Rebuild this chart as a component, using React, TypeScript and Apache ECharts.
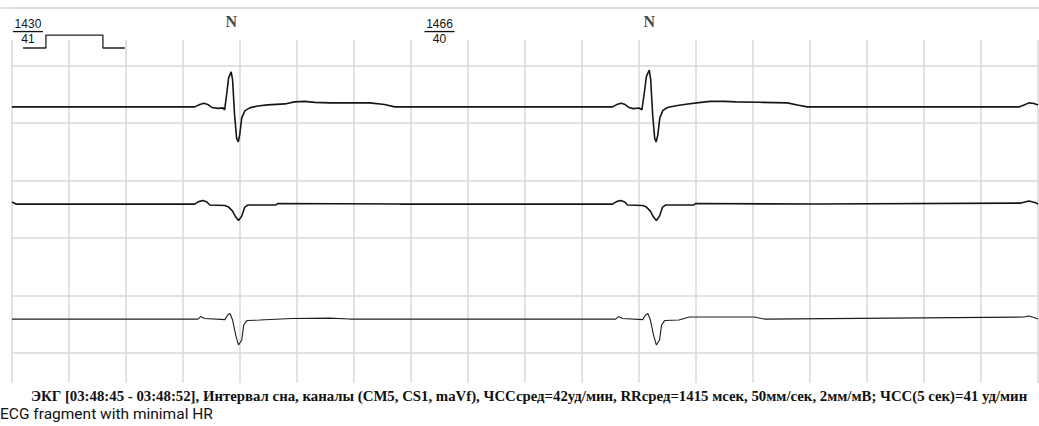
import React, { useEffect, useRef } from "react";
import * as echarts from "echarts";

// Time axis: milliseconds, one grid square = 200 ms (50 mm/s)
const X_MAX_MS = 3600;
const GRID_STEP_MS = 200;

// Amplitudes in mm (2 mm/mV), one grid square = 10 mm
// Channel CM5
const traceCM5: [number, number][] = [
  [0, 0], [641, 0], [659, 0.43], [673, 0.64], [687, 0.43], [701, -0.09], [722, -0.26], [740, -0.17],
  [746, -0.52], [753, 2.09], [760, 5.04], [769, 6.09], [774, 4.7], [781, -1.39], [788, -5.39],
  [794, -6.09], [799, -4.87], [806, -1.91], [817, -0.7], [834, -0.17], [862, 0.17], [897, 0.35],
  [957, 0.52], [992, 0.87], [1027, 0.96], [1062, 0.78], [1115, 0.7], [1255, 0.7], [1307, 0.43], [1343, 0],
  [2107, 0], [2122, 0.4], [2137, 0.64], [2150, 0.45], [2165, -0.1], [2180, -0.3], [2200, -0.2],
  [2210, -0.5], [2218, 2.2], [2226, 5.3], [2236, 6.4], [2241, 4.8], [2248, -1.4], [2255, -5.4],
  [2260, -6.1], [2266, -4.9], [2273, -1.9], [2284, -0.6], [2300, -0.1], [2330, 0.2], [2365, 0.45],
  [2410, 0.75], [2450, 0.96], [2500, 0.96], [2540, 0.87], [2620, 0.8], [2720, 0.7], [2760, 0.3], [2790, 0],
  [3533, 0], [3551, 0.35], [3568, 0.7], [3586, 0.6], [3600, 0.35],
];
// Channel CS1
const traceCS1: [number, number][] = [
  [0, 0.35], [14, 0], [641, 0], [655, 0.43], [670, 0.61], [684, 0.35], [694, -0.17], [747, -0.26],
  [760, -0.52], [774, -1.22], [785, -2.26], [795, -2.87], [806, -2.09], [817, -0.52], [827, -0.17],
  [925, -0.17], [932, 0.09], [1360, 0],
  [2107, 0], [2121, 0.43], [2136, 0.61], [2150, 0.35], [2160, -0.17], [2213, -0.26], [2226, -0.52],
  [2240, -1.22], [2251, -2.26], [2261, -2.87], [2272, -2.09], [2283, -0.52], [2293, -0.17],
  [2391, -0.17], [2398, 0.09], [2826, 0],
  [3540, 0.17], [3568, 0.52], [3589, 0.26], [3600, 0],
];
// Channel maVf
const traceMAVF: [number, number][] = [
  [0, 0], [652, 0], [662, 0.43], [676, 0.09], [747, -0.09], [757, 0.7], [765, 0.96], [774, -0.17],
  [785, -2.78], [795, -4.52], [806, -3.65], [813, -1.04], [824, -0.26], [869, -0.17], [981, 0.09],
  [1115, 0.17], [1185, 0],
  [2118, 0], [2128, 0.43], [2142, 0.09], [2213, -0.09], [2223, 0.7], [2231, 0.96], [2240, -0.17],
  [2251, -2.78], [2261, -4.52], [2272, -3.65], [2279, -1.04], [2290, -0.26], [2340, -0.17],
  [2377, 0.35], [2604, 0.35], [2640, 0],
  [3551, 0.35], [3568, 0.52], [3586, 0.26], [3600, 0],
];
// Calibration pulse (1 mV = 2 mm)
const calibration: [number, number][] = [
  [39, 0], [119, 0], [119, 2.26], [319, 2.26], [319, 0], [396, 0],
];

// Beat annotations
const beatTimes = [769, 2236];
const beatLabels = ["N", "N"];
const rrMarkTimes = [56, 1500];
const rrValues = ["1430", "1466"];
const hrValues = ["41", "40"];

const captionMain =
  "ЭКГ [03:48:45 - 03:48:52], Интервал сна, каналы (CM5, CS1, maVf), ЧССсред=42уд/мин, RRсред=1415 мсек, 50мм/сек, 2мм/мВ; ЧСС(5 сек)=41 уд/мин";
const captionSub = "ECG fragment with minimal HR";

// Row positions in grid squares from the top
const ROW_CM5 = 1.72;
const ROW_CS1 = 3.41;
const ROW_MAVF = 5.41;
const ROW_CAL = 0.696;
const ROW_N = 0.243;
const ROW_RR = 0.41;

const place = (pts: [number, number][], row: number) =>
  pts.map(([t, mm]) => [t, row - mm / 10]);

export default function App() {
  const ref = useRef<HTMLDivElement>(null);
  useEffect(() => {
    document.body.style.margin = "0";
    const chart = echarts.init(ref.current!, null, { renderer: "svg" });
    const gridColor = "#d9d9d9";
    const option: any = {
      animation: false,
      backgroundColor: "#ffffff",
      grid: [
        { left: 12, top: 8, width: 1026, height: 345 },
        { left: 12, top: 40, width: 1026, height: 343 },
      ],
      xAxis: [
        {
          gridIndex: 0, type: "value", min: 0, max: X_MAX_MS, interval: GRID_STEP_MS,
          axisLine: { show: false }, axisTick: { show: false }, axisLabel: { show: false },
          splitLine: { show: false },
        },
        {
          gridIndex: 1, type: "value", min: 0, max: X_MAX_MS, interval: GRID_STEP_MS,
          axisLine: { show: false }, axisTick: { show: false }, axisLabel: { show: false },
          splitLine: { show: true, lineStyle: { color: gridColor, width: 1.5 } },
        },
      ],
      yAxis: [
        {
          gridIndex: 0, type: "value", min: 0, max: 6, interval: 1, inverse: true,
          axisLine: { show: false }, axisTick: { show: false }, axisLabel: { show: false },
          splitLine: { show: true, lineStyle: { color: gridColor, width: 1.5 } },
        },
        {
          gridIndex: 1, type: "value", min: 0, max: 1, inverse: true,
          axisLine: { show: false }, axisTick: { show: false }, axisLabel: { show: false },
          splitLine: { show: false },
        },
      ],
      series: [
        {
          type: "line", name: "CM5", xAxisIndex: 0, yAxisIndex: 0, showSymbol: false,
          data: place(traceCM5, ROW_CM5), lineStyle: { color: "#161616", width: 1.6 },
        },
        {
          type: "line", name: "CS1", xAxisIndex: 0, yAxisIndex: 0, showSymbol: false,
          data: place(traceCS1, ROW_CS1), lineStyle: { color: "#161616", width: 1.6 },
        },
        {
          type: "line", name: "maVf", xAxisIndex: 0, yAxisIndex: 0, showSymbol: false,
          data: place(traceMAVF, ROW_MAVF), lineStyle: { color: "#1e1e1e", width: 1.1 },
        },
        {
          type: "line", name: "cal", xAxisIndex: 0, yAxisIndex: 0, showSymbol: false,
          data: place(calibration, ROW_CAL), lineStyle: { color: "#222", width: 1.3 },
        },
        {
          type: "scatter", xAxisIndex: 0, yAxisIndex: 0, symbolSize: 1,
          itemStyle: { color: "rgba(0,0,0,0)" },
          data: beatTimes.map((t) => [t, ROW_N]),
          label: {
            show: true, position: "inside",
            formatter: (p: any) => beatLabels[p.dataIndex],
            fontFamily: "Liberation Serif", fontWeight: "bold", fontSize: 16, color: "#111",
          },
        },
        {
          type: "custom", xAxisIndex: 0, yAxisIndex: 0,
          data: rrMarkTimes.map((t) => [t, ROW_RR]),
          renderItem: (params: any, api: any) => {
            const i = params.dataIndex;
            const p = api.coord([api.value(0), api.value(1)]);
            const font = { fontFamily: "Liberation Sans", fontSize: 12, fill: "#111" };
            return {
              type: "group",
              children: [
                {
                  type: "text", x: p[0], y: p[1] - 2,
                  style: { text: rrValues[i], align: "center", verticalAlign: "bottom", ...font },
                },
                {
                  type: "line",
                  shape: { x1: p[0] - 15, y1: p[1], x2: p[0] + 15, y2: p[1] },
                  style: { stroke: "#111", lineWidth: 1.3 },
                },
                {
                  type: "text", x: p[0], y: p[1] + 1,
                  style: { text: hrValues[i], align: "center", verticalAlign: "top", ...font },
                },
              ],
            };
          },
        },
      ],
      graphic: [
        {
          type: "line", shape: { x1: 0, y1: 8, x2: 1039, y2: 8 },
          style: { stroke: gridColor, lineWidth: 1.5 },
        },
        {
          type: "text", left: 31, top: 388,
          style: {
            text: captionMain, fontFamily: "Liberation Serif", fontWeight: "bold",
            fontSize: 14.8, fill: "#111",
          },
        },
        {
          type: "text", left: 0, top: 406,
          style: { text: captionSub, fontFamily: "Roboto", fontSize: 15.5, fill: "#111" },
        },
      ],
    };
    chart.setOption(option);
    return () => chart.dispose();
  }, []);
  return <div ref={ref} style={{ width: 1039, height: 426 }} />;
}
